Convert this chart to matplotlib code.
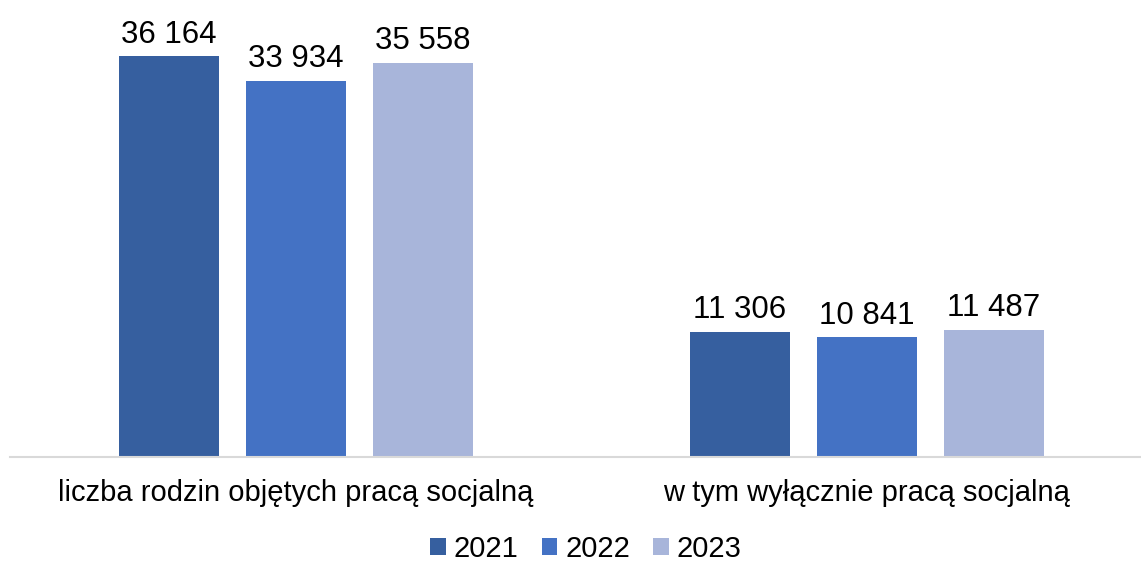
import matplotlib
matplotlib.use('Agg')
import matplotlib.pyplot as plt

categories = ['liczba rodzin objętych pracą socjalną', 'w tym wyłącznie pracą socjalną']
years = ['2021', '2022', '2023']
values = {
    '2021': [36164, 11306],
    '2022': [33934, 10841],
    '2023': [35558, 11487],
}
colors = ['#365F9F', '#4472C4', '#A8B5DA']

plt.rcParams['font.family'] = ['Liberation Sans', 'DejaVu Sans']

fig = plt.figure(figsize=(11.41, 5.61), dpi=100)
ax = fig.add_axes([10 / 1141, 104 / 561, 1131 / 1141, 443.6 / 561])

step = 0.2224
width = 0.175
for i, y in enumerate(years):
    xs = [g + (i - 1) * step for g in range(len(categories))]
    bars = ax.bar(xs, values[y], width, color=colors[i], label=y)
    for b, v in zip(bars, values[y]):
        ax.annotate(f'{v:,}'.replace(',', ' '), (b.get_x() + b.get_width() / 2, v),
                    xytext=(0, 4.5), textcoords='offset points',
                    ha='center', va='bottom', fontsize=22.5)

ax.set_xlim(-0.501, 1.480)
ax.set_ylim(0, 40000)
ax.set_xticks(range(len(categories)))
ax.set_xticklabels(categories, fontsize=21)
ax.tick_params(axis='x', length=0, pad=16)
ax.set_yticks([])
for s in ['top', 'right', 'left']:
    ax.spines[s].set_visible(False)
ax.spines['bottom'].set_color('#D9D9D9')
ax.spines['bottom'].set_linewidth(1.5)

fig.legend(loc='center', bbox_to_anchor=(586 / 1141, 1 - 549 / 561), ncol=3,
           frameon=False, fontsize=21, handlelength=0.52, handleheight=0.52,
           handletextpad=0.28, columnspacing=0.8)

fig.savefig('out.png', dpi=100)
